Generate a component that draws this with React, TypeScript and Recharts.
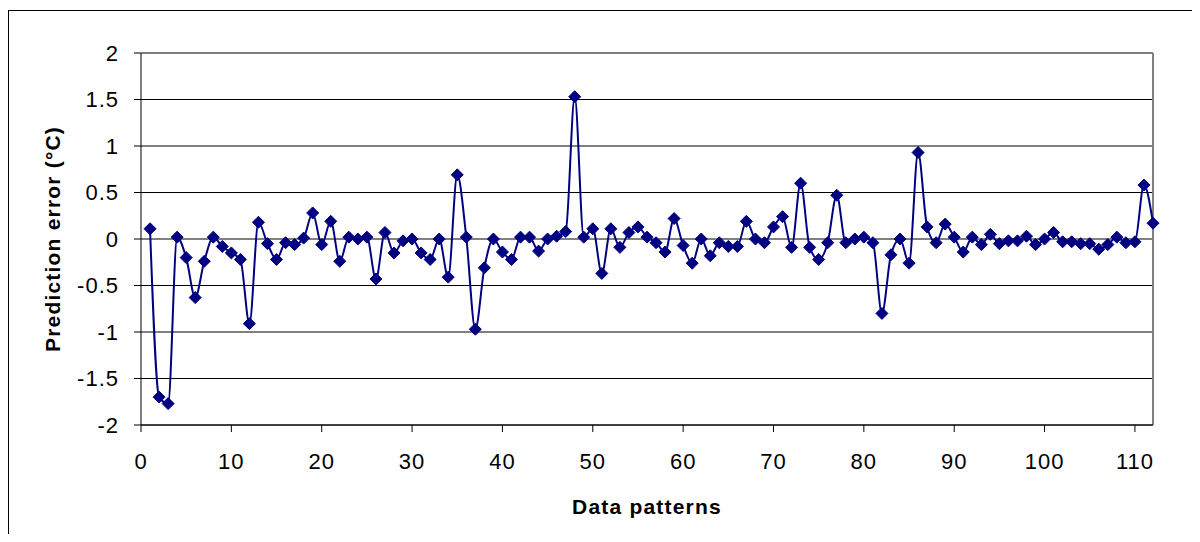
import React from 'react';
import {
  LineChart, Line, XAxis, YAxis, CartesianGrid, ReferenceLine, Label
} from 'recharts';

// prediction error per data pattern
const errors: number[] = [
  0.11, -1.7, -1.77, 0.02, -0.2, -0.63, -0.24, 0.02, -0.08, -0.15,
  -0.22, -0.91, 0.18, -0.05, -0.22, -0.04, -0.06, 0.01, 0.28, -0.06,
  0.19, -0.24, 0.02, 0.0, 0.02, -0.43, 0.07, -0.15, -0.02, 0.0,
  -0.15, -0.22, 0.0, -0.41, 0.69, 0.02, -0.97, -0.31, 0.0, -0.14,
  -0.22, 0.02, 0.02, -0.13, 0.0, 0.03, 0.08, 1.53, 0.02, 0.11,
  -0.37, 0.11, -0.09, 0.07, 0.13, 0.02, -0.04, -0.14, 0.22, -0.07,
  -0.26, 0.0, -0.18, -0.04, -0.08, -0.08, 0.19, 0.0, -0.04, 0.13,
  0.24, -0.09, 0.6, -0.09, -0.22, -0.04, 0.47, -0.04, 0.0, 0.02,
  -0.04, -0.8, -0.17, 0.0, -0.26, 0.93, 0.13, -0.04, 0.16, 0.02,
  -0.14, 0.02, -0.06, 0.05, -0.05, -0.02, -0.02, 0.03, -0.06, 0.0,
  0.07, -0.03, -0.03, -0.05, -0.05, -0.11, -0.06, 0.02, -0.04, -0.03,
  0.58, 0.17,
];

const xTicks = [0, 10, 20, 30, 40, 50, 60, 70, 80, 90, 100, 110];
const yTicks = [-2, -1.5, -1, -0.5, 0, 0.5, 1, 1.5, 2];

const data = errors.map((e, i) => ({ pattern: i + 1, error: e }));

const NAVY = '#000080';

function Diamond(props: any) {
  const { cx, cy, index } = props;
  if (cx == null || cy == null) return <g key={`d-${index}`} />;
  const r = 6;
  return (
    <polygon
      key={`d-${index}`}
      points={`${cx},${cy - r} ${cx + r},${cy} ${cx},${cy + r} ${cx - r},${cy}`}
      fill={NAVY}
      stroke={NAVY}
      strokeWidth={1}
    />
  );
}

const tickStyle = { fontSize: 22, fill: '#000', letterSpacing: 1 };
const titleStyle = { fontSize: 21, fontWeight: 'bold', fill: '#000', letterSpacing: 1.2 };

export default function App() {
  return (
    <div style={{ position: 'relative', width: 1192, height: 526, fontFamily: '"Liberation Sans", Arial, sans-serif' }}>
      <div
        style={{
          position: 'absolute', top: 2, left: 0, width: 1187, height: 524,
          boxSizing: 'border-box', border: '1px solid #000', borderBottom: 'none',
        }}
      />
      <LineChart
        width={1192}
        height={526}
        data={data}
        margin={{ top: 45, right: 47, left: 13, bottom: 49 }}
        style={{ position: 'absolute', top: 0, left: 0 }}
      >
        <CartesianGrid vertical={false} stroke="#000" strokeWidth={1} />
        <XAxis
          dataKey="pattern"
          type="number"
          domain={[0, 112]}
          ticks={xTicks}
          height={60}
          tickSize={7}
          tickMargin={21}
          stroke="#000"
          tick={tickStyle}
          interval={0}
        >
          <Label
            content={(p: any) => {
              const vb = p.viewBox;
              return (
                <text x={vb.x + vb.width / 2} y={vb.y + 89} textAnchor="middle" style={titleStyle}>
                  Data patterns
                </text>
              );
            }}
          />
        </XAxis>
        <YAxis
          type="number"
          domain={[-2, 2]}
          ticks={yTicks}
          width={120}
          tickSize={7}
          tickMargin={15}
          stroke="#000"
          tick={tickStyle}
          interval={0}
        >
          <Label
            content={(p: any) => {
              const vb = p.viewBox;
              const cx = vb.x + 39;
              const cy = vb.y + vb.height / 2;
              return (
                <text x={cx} y={cy} textAnchor="middle" transform={`rotate(-90, ${cx}, ${cy})`} style={titleStyle}>
                  Prediction error (°C)
                </text>
              );
            }}
          />
        </YAxis>
        <ReferenceLine y={2} stroke="#808080" strokeWidth={2} />
        <ReferenceLine x={112} stroke="#808080" strokeWidth={2} />
        <Line
          type="monotone"
          dataKey="error"
          stroke={NAVY}
          strokeWidth={2}
          dot={Diamond}
          activeDot={false}
          isAnimationActive={false}
        />
      </LineChart>
    </div>
  );
}
